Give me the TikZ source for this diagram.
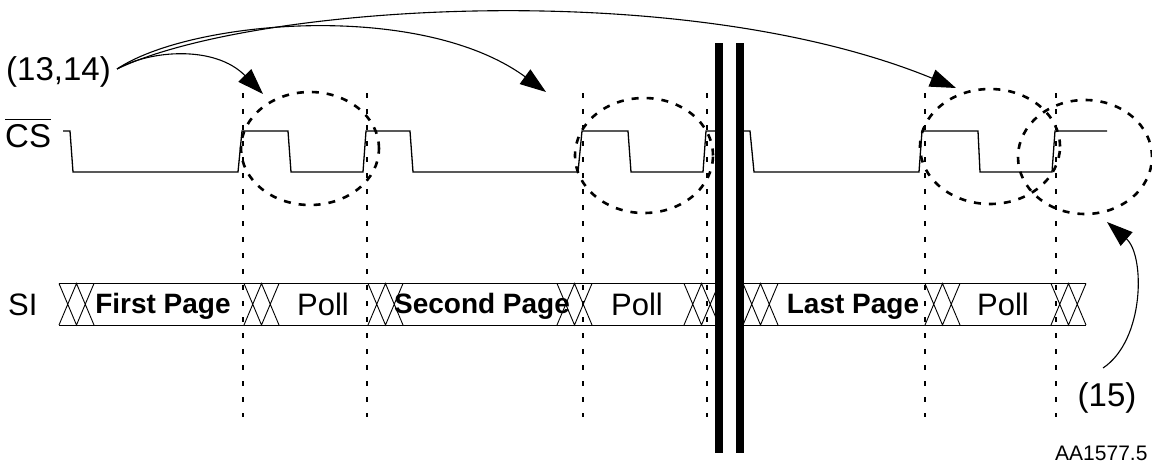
\documentclass[tikz,border=0pt]{standalone}
\usepackage{fontspec}
\setmainfont{Liberation Sans}
\usetikzlibrary{arrows.meta,shapes.geometric}
\begin{document}
\begin{tikzpicture}[x=1pt,y=-1pt,
  wave/.style={line width=1.3pt, line join=miter},
  guide/.style={line width=1.1pt, dash pattern=on 5pt off 11pt},
  oval/.style={draw, ellipse, inner sep=0pt, line width=2.6pt, dash pattern=on 7pt off 8pt},
  bus/.style={line width=0.9pt},
  callout/.style={line width=1.1pt, -{Triangle[length=26pt,width=18pt]}},
  lbl/.style={inner sep=0pt, anchor=base, font=\fontsize{31}{36}\selectfont},
  biglbl/.style={inner sep=0pt, anchor=base, font=\fontsize{33}{38}\selectfont},
  boldlbl/.style={inner sep=0pt, anchor=base, font=\fontsize{28}{32}\selectfont\bfseries},
  tag/.style={inner sep=0pt, anchor=base west, font=\fontsize{21}{25}\selectfont},
  breakbar/.style={fill=black},
]
\useasboundingbox (0,0) rectangle (1152,466);

% labels
\node[biglbl, anchor=base west] (n1314) at (6,80) {(13,14)};
\node[biglbl, anchor=base west] (ncs) at (5,147) {\vbox{\hrule height 1.3pt\kern 4pt\hbox{CS}}};
\node[lbl, anchor=base west] (nsi) at (8,315) {SI};
\node[biglbl] (n15) at (1107,406) {(15)};
\node[tag] (ntag) at (1055,460) {AA1577.5};

% vertical guide lines
\foreach \gx in {243,367,583,707,925,1056}
  \draw[guide] (\gx,93) -- (\gx,417);

% CS waveform
\draw[wave] (63,131) -- (70,131) -- (73,172) -- (238,172) -- (242,131) -- (288,131) -- (291,172)
  -- (363,172) -- (366,131) -- (410,131) -- (413,172) -- (578,172) -- (582,131) -- (628,131)
  -- (631,172) -- (703,172) -- (706,131) -- (750,131) -- (754,172) -- (919,172) -- (922,131)
  -- (978,131) -- (980,172) -- (1052,172) -- (1055,131) -- (1107,131);

% SI bus
\draw[bus] (59,283.5) -- (1086,283.5);
\draw[bus] (59,325) -- (1086,325);
\foreach \a in {59,244,368,557,684,743,925,1051} {
  \draw[bus] (\a,283.5) -- ++(17.5,41.5) -- ++(17.5,-41.5)
             (\a,325) -- ++(17.5,-41.5) -- ++(17.5,41.5);
}
\node[boldlbl] (p1) at (163,313) {First Page};
\node[lbl] (q1) at (323,315) {Poll};
\node[boldlbl] (p2) at (482,313) {Second Page};
\node[lbl] (q2) at (637,315) {Poll};
\node[boldlbl] (p3) at (853,313) {Last Page};
\node[lbl] (q3) at (1003,315) {Poll};

% dashed ellipses
\node[oval, minimum width=138pt, minimum height=113pt] (e1) at (310,148.5) {};
\node[oval, minimum width=138pt, minimum height=115pt] (e2) at (644,155.5) {};
\node[oval, minimum width=140pt, minimum height=115pt] (e3) at (990,146.5) {};
\node[oval, minimum width=134pt, minimum height=114pt] (e4) at (1085,157) {};

% break bars
\fill[white] (723,43) rectangle (736,453);
\fill[breakbar] (715,43) rectangle (723,453);
\fill[breakbar] (736,43) rectangle (744,453);

% callout arrows
\coordinate (src) at (117,69);
\coordinate (t1) at (263,94);
\coordinate (t2) at (546,92);
\coordinate (t3) at (956,88);
\coordinate (s15) at (1103,368);
\coordinate (t15) at (1107,222);
\draw[callout] (src) .. controls (150,50) and (215,45) .. (t1);
\draw[callout] (src) .. controls (190,20) and (420,0) .. (t2);
\draw[callout] (src) .. controls (250,5) and (680,-25) .. (t3);
\draw[callout] (s15) .. controls (1145,340) and (1145,255) .. (t15);
\end{tikzpicture}
\end{document}
